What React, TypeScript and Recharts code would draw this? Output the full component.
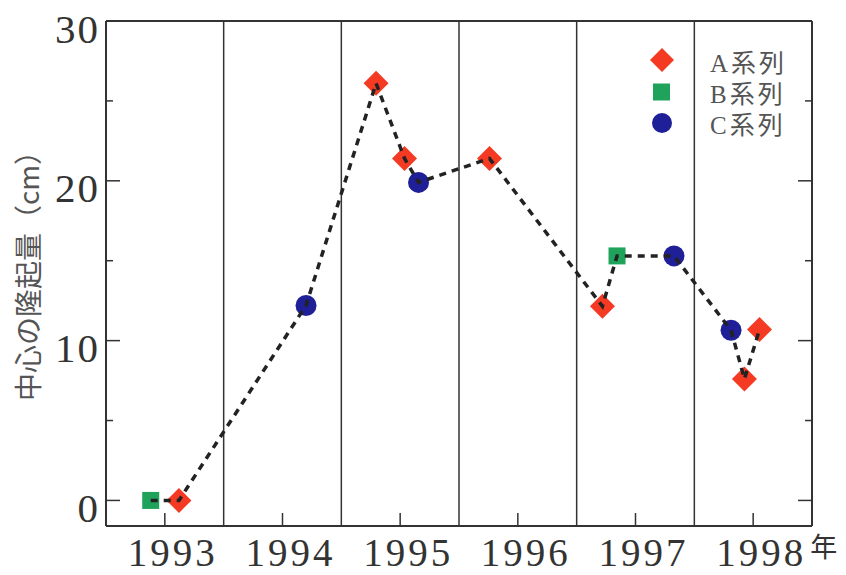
import React from 'react';
import { ComposedChart, XAxis, YAxis, Line, Scatter, ReferenceLine } from 'recharts';

const yearLabels = ['1993', '1994', '1995', '1996', '1997', '1998'];
const yearTicks = [1993.5, 1994.5, 1995.5, 1996.5, 1997.5, 1998.5];
const yearBoundaries = [1994, 1995, 1996, 1997, 1998];
const valueTicks = [0, 5, 10, 15, 20, 25, 30];

const seriesAX = [1993.62, 1995.295, 1995.537, 1996.259, 1997.219, 1998.426, 1998.554];
const seriesAY = [0, 26.1, 21.4, 21.4, 12.15, 7.6, 10.7];
const seriesBX = [1993.38, 1997.343];
const seriesBY = [0, 15.3];
const seriesCX = [1994.7, 1995.656, 1997.827, 1998.312];
const seriesCY = [12.2, 19.9, 15.3, 10.65];

const seriesNames = ['A系列', 'B系列', 'C系列'];
const RED = '#f43a22';
const GREEN = '#1fa35b';
const BLUE = '#1f1f98';
const AXIS = '#333';

const zip = (xs: number[], ys: number[]) => xs.map((x, i) => ({ x, y: ys[i] }));
const aData = zip(seriesAX, seriesAY);
const bData = zip(seriesBX, seriesBY);
const cData = zip(seriesCX, seriesCY);
const pathData = [...aData, ...bData, ...cData].sort((p, q) => p.x - q.x);

const NUM_FONT = "'Liberation Serif', 'DejaVu Serif', serif";
const CJK_FONT = "'Liberation Serif', 'Noto Sans CJK JP', serif";

const Diamond = (props: any) => {
  const { cx, cy } = props;
  const r = 12.5;
  return <polygon points={`${cx},${cy - r} ${cx + r},${cy} ${cx},${cy + r} ${cx - r},${cy}`} fill={RED} />;
};
const Square = (props: any) => {
  const { cx, cy } = props;
  const s = 17;
  return <rect x={cx - s / 2} y={cy - s / 2} width={s} height={s} fill={GREEN} />;
};
const Circle = (props: any) => {
  const { cx, cy } = props;
  return <circle cx={cx} cy={cy} r={10.5} fill={BLUE} />;
};

const LeftTick = (props: any) => {
  const { x, y, payload } = props;
  const major = payload.value % 10 === 0;
  return (
    <g>
      <line x1={x} x2={x + (major ? 14 : 7)} y1={y} y2={y} stroke={AXIS} strokeWidth={1.5} />
      {major && (
        <text x={x - 6} y={y + 21.5} textAnchor="end" fontSize={41} fontFamily={NUM_FONT} fill={AXIS} letterSpacing={2}>
          {payload.value}
        </text>
      )}
    </g>
  );
};
const RightTick = (props: any) => {
  const { x, y, payload } = props;
  const major = payload.value % 10 === 0;
  return <line x1={x} x2={x - (major ? 14 : 7)} y1={y} y2={y} stroke={AXIS} strokeWidth={1.5} />;
};
const BottomTick = (props: any) => {
  const { x, y, index } = props;
  return (
    <g>
      <line x1={x} x2={x} y1={y} y2={y - 13} stroke={AXIS} strokeWidth={1.5} />
      <text x={x + 8} y={y + 40} textAnchor="middle" fontSize={39} fontFamily={NUM_FONT} fill={AXIS} letterSpacing={3}>
        {yearLabels[index]}
      </text>
      {index === yearLabels.length - 1 && (
        <text x={x + 57} y={y + 31} fontSize={27} fontFamily="'Noto Sans CJK JP'" fill={AXIS}>
          年
        </text>
      )}
    </g>
  );
};
const TopTick = (props: any) => {
  const { x, y } = props;
  return <line x1={x} x2={x} y1={y} y2={y + 13} stroke={AXIS} strokeWidth={1.5} />;
};

export default function App() {
  const axisLine = { stroke: AXIS, strokeWidth: 2 };
  return (
    <div style={{ position: 'absolute', left: 0, top: 0, width: 846, height: 575, background: '#fff' }}>
      <ComposedChart width={846} height={575} margin={{ top: 0, right: 0, bottom: 0, left: 0 }}>
        <XAxis
          type="number"
          dataKey="x"
          domain={[1993, 1999]}
          ticks={yearTicks}
          interval={0}
          height={49}
          tickSize={0}
          tickMargin={0}
          tickLine={false}
          axisLine={axisLine}
          tick={(p: any) => <BottomTick {...p} />}
          allowDataOverflow
        />
        <XAxis
          xAxisId="top"
          orientation="top"
          type="number"
          domain={[1993, 1999]}
          ticks={yearTicks}
          interval={0}
          height={21}
          tickSize={0}
          tickMargin={0}
          tickLine={false}
          axisLine={axisLine}
          tick={(p: any) => <TopTick {...p} />}
          allowDataOverflow
        />
        <YAxis
          type="number"
          dataKey="y"
          domain={[-1.6, 30]}
          ticks={valueTicks}
          interval={0}
          width={106}
          tickSize={0}
          tickMargin={0}
          tickLine={false}
          axisLine={axisLine}
          tick={(p: any) => <LeftTick {...p} />}
          allowDataOverflow
        />
        <YAxis
          yAxisId="right"
          orientation="right"
          type="number"
          domain={[-1.6, 30]}
          ticks={valueTicks}
          interval={0}
          width={34}
          tickSize={0}
          tickMargin={0}
          tickLine={false}
          axisLine={axisLine}
          tick={(p: any) => <RightTick {...p} />}
          allowDataOverflow
        />
        {yearBoundaries.map((b) => (
          <ReferenceLine key={b} x={b} stroke={AXIS} strokeWidth={1.5} />
        ))}
        <Scatter name={seriesNames[0]} data={aData} dataKey="y" fill={RED} shape={Diamond} isAnimationActive={false} />
        <Scatter name={seriesNames[1]} data={bData} dataKey="y" fill={GREEN} shape={Square} isAnimationActive={false} />
        <Scatter name={seriesNames[2]} data={cData} dataKey="y" fill={BLUE} shape={Circle} isAnimationActive={false} />
        <Line
          data={pathData}
          dataKey="y"
          type="linear"
          stroke="#222"
          strokeWidth={3.5}
          strokeDasharray="7 6"
          dot={false}
          activeDot={false}
          isAnimationActive={false}
          {...({ zIndex: 700 } as any)}
        />
      </ComposedChart>
      <svg width={846} height={575} style={{ position: 'absolute', left: 0, top: 0, pointerEvents: 'none' }}>
        <text
          transform="translate(39,269) rotate(-90)"
          textAnchor="middle"
          fontSize={28}
          fontFamily="'Noto Sans CJK JP'"
          fill="#555"
        >
          中心の隆起量（cm）
        </text>
        <polygon points="662,48 674,60 662,72 650,60" fill={RED} />
        <rect x={653} y={83.5} width={17} height={17} fill={GREEN} />
        <circle cx={662} cy={123} r={10} fill={BLUE} />
        {seriesNames.map((n, i) => (
          <text key={n} x={710} y={72 + i * 31} fontSize={25} fontFamily={CJK_FONT} fill="#555" letterSpacing={3}>
            {n}
          </text>
        ))}
      </svg>
    </div>
  );
}
